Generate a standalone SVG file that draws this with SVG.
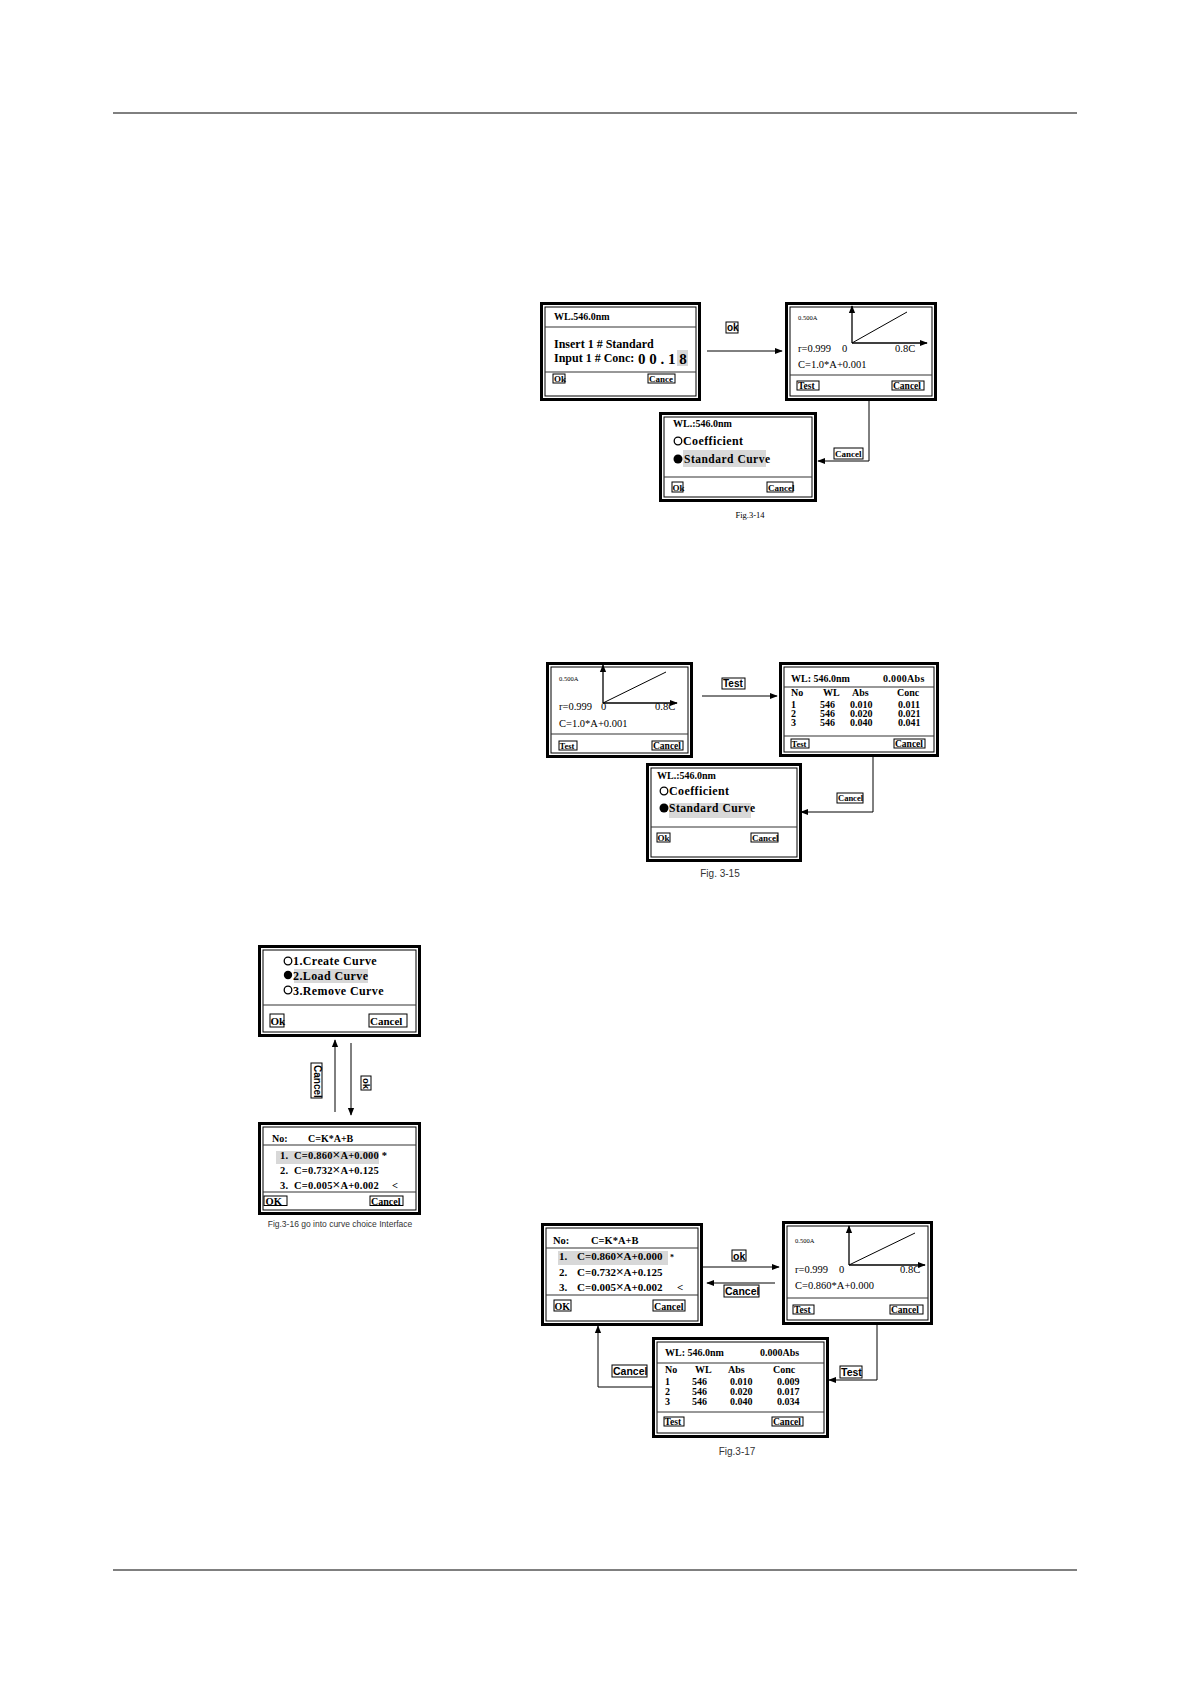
<svg xmlns="http://www.w3.org/2000/svg" width="1191" height="1684" viewBox="0 0 1191 1684">
<style>
.fr{fill:#fff;stroke:#000;stroke-width:3}
.in{fill:none;stroke:#000;stroke-width:1}
.sep{stroke:#333;stroke-width:1.2}
.b{font-family:"Liberation Serif",serif;font-weight:bold;fill:#000}
.r{font-family:"Liberation Serif",serif;fill:#000}
.btn{fill:#fff;stroke:#000;stroke-width:1}
.lbl{font-family:"Liberation Sans",Arial,sans-serif;font-weight:bold;fill:#000}
.cap{font-family:"Liberation Sans",Arial,sans-serif;fill:#333}
.conn{stroke:#000;stroke-width:1;fill:none}
.ax{stroke:#000;stroke-width:1.3;fill:none}
.hl{fill:#d8d8d8}
.x{font-family:"Liberation Sans",sans-serif;font-weight:normal;font-size:13px}
</style>
<defs>
<marker id="ah" viewBox="0 0 10 10" refX="9" refY="5" markerWidth="8" markerHeight="8" markerUnits="userSpaceOnUse" orient="auto">
<path d="M0,1 L10,5 L0,9 z" fill="#000"/>
</marker>
</defs>
<line x1="113" y1="113" x2="1077" y2="113" stroke="#000" stroke-width="1"/>
<line x1="113" y1="1570" x2="1077" y2="1570" stroke="#000" stroke-width="1"/>

<g id="connectors">
<line class="conn" x1="707" y1="351" x2="782" y2="351" marker-end="url(#ah)"/>
<polyline class="conn" points="869,401 869,461 818,461" marker-end="url(#ah)"/>
<line class="conn" x1="702" y1="696" x2="777" y2="696" marker-end="url(#ah)"/>
<polyline class="conn" points="873,757 873,812 801,812" marker-end="url(#ah)"/>
<line class="conn" x1="335" y1="1112" x2="335" y2="1040" marker-end="url(#ah)"/>
<line class="conn" x1="351" y1="1043" x2="351" y2="1115" marker-end="url(#ah)"/>
<line class="conn" x1="703" y1="1267" x2="779" y2="1267" marker-end="url(#ah)"/>
<line class="conn" x1="775" y1="1283" x2="707" y2="1283" marker-end="url(#ah)"/>
<polyline class="conn" points="877,1325 877,1380 829,1380" marker-end="url(#ah)"/>
<polyline class="conn" points="652,1387 598,1387 598,1326" marker-end="url(#ah)"/>
<g id="lbl-ok1"><rect class="btn" x="726" y="322" width="12" height="11"/><text class="lbl" x="727" y="331" font-size="10">ok</text></g>
<g id="lbl-cancel1"><rect class="btn" x="834" y="448" width="29" height="11"/><text class="b" x="835" y="457" font-size="9">Cancel</text></g>
<g id="lbl-test2"><rect class="btn" x="722" y="678" width="23" height="11"/><text class="lbl" x="723" y="687" font-size="10">Test</text></g>
<g id="lbl-cancel2"><rect class="btn" x="837" y="793" width="26" height="10"/><text class="b" x="838" y="801" font-size="8.5">Cancel</text></g>
<g id="lbl-cancel3"><rect class="btn" x="311" y="1063" width="11" height="35"/><text class="lbl" font-size="10" transform="translate(313.5,1065) rotate(90)">Cancel</text></g>
<g id="lbl-ok3"><rect class="btn" x="361" y="1076" width="10" height="14"/><text class="lbl" font-size="9.5" transform="translate(363,1078) rotate(90)">ok</text></g>
<g id="lbl-ok4"><rect class="btn" x="732" y="1250" width="14" height="11"/><text class="lbl" x="733" y="1259.5" font-size="10.5">ok</text></g>
<g id="lbl-cancel4"><rect class="btn" x="724" y="1285" width="35" height="12"/><text class="lbl" x="725" y="1295" font-size="10.5">Cancel</text></g>
<g id="lbl-test4"><rect class="btn" x="840" y="1366" width="22" height="12"/><text class="lbl" x="841" y="1376" font-size="10.5">Test</text></g>
<g id="lbl-cancel5"><rect class="btn" x="612" y="1365" width="35" height="12"/><text class="lbl" x="613" y="1375" font-size="10.5">Cancel</text></g>
</g>

<!-- Fig 3-14 -->
<g id="s1">
<rect class="fr" x="541.5" y="303.5" width="158" height="96"/>
<rect class="in" x="545" y="307" width="151" height="89"/>
<text class="b" x="554" y="320" font-size="10">WL.546.0nm</text>
<line class="sep" x1="545" y1="327" x2="696" y2="327"/>
<text class="b" x="554" y="348" font-size="12">Insert 1 # Standard</text>
<rect class="hl" x="677" y="350" width="11" height="16"/>
<text class="b" x="554" y="362" font-size="12">Input 1 # Conc:</text>
<text class="b" x="638" y="364" font-size="15">0 0 . 1 8</text>
<line class="sep" x1="545" y1="372" x2="696" y2="372"/>
<rect class="btn" x="553" y="374" width="12" height="9"/><text class="b" x="554" y="382" font-size="9">Ok</text>
<rect class="btn" x="648" y="374" width="27" height="9"/><text class="b" x="649" y="382" font-size="9">Cance</text>
</g>
<g id="s2">
<rect class="fr" x="786.5" y="303.5" width="149" height="96"/>
<rect class="in" x="790" y="307" width="142" height="89"/>
<line class="ax" x1="852" y1="343" x2="852" y2="306" marker-end="url(#ah)"/>
<line class="ax" x1="852" y1="343" x2="927" y2="343" marker-end="url(#ah)"/>
<line class="conn" x1="852" y1="343" x2="907" y2="312"/>
<text class="r" x="798" y="320" font-size="6.5">0.500A</text>
<text class="r" x="798" y="352" font-size="10.5">r=0.999</text>
<text class="r" x="842" y="352" font-size="10.5">0</text>
<text class="r" x="895" y="352" font-size="10.5">0.8C</text>
<text class="r" x="798" y="368" font-size="10.5">C=1.0*A+0.001</text>
<line class="sep" x1="790" y1="375" x2="932" y2="375"/>
<rect class="btn" x="797" y="381" width="22" height="9"/><text class="b" x="798" y="389" font-size="9.5">Test</text>
<rect class="btn" x="892" y="381" width="32" height="9"/><text class="b" x="893" y="389" font-size="9.5">Cancel</text>
</g>
<g id="s3">
<rect class="fr" x="660.5" y="413.5" width="155" height="87"/>
<rect class="in" x="664" y="417" width="148" height="80"/>
<text class="b" x="673" y="427" font-size="10">WL.:546.0nm</text>
<circle cx="678" cy="441" r="3.8" fill="none" stroke="#000" stroke-width="1.3"/>
<text class="b" x="683" y="445" font-size="12" letter-spacing="0.4">Coefficient</text>
<rect class="hl" x="683" y="450" width="83" height="17"/>
<circle cx="678" cy="459" r="4.5" fill="#000"/>
<text class="b" x="684" y="463" font-size="11.5" letter-spacing="0.5">Standard Curve</text>
<line class="sep" x1="664" y1="477" x2="812" y2="477"/>
<rect class="btn" x="672" y="482" width="11" height="10"/><text class="b" x="672.5" y="490.5" font-size="9">Ok</text>
<rect class="btn" x="767" y="482" width="26" height="10"/><text class="b" x="768" y="490.5" font-size="9">Cancel</text>
<text class="r" x="750" y="518" font-size="8.5" text-anchor="middle" fill="#333">Fig.3-14</text>
</g>

<!-- Fig 3-15 -->
<g id="s4">
<rect class="fr" x="547.5" y="663.5" width="144" height="93"/>
<rect class="in" x="551" y="667" width="137" height="86"/>
<line class="ax" x1="603" y1="703" x2="603" y2="665" marker-end="url(#ah)"/>
<line class="ax" x1="603" y1="703" x2="677" y2="703" marker-end="url(#ah)"/>
<line class="conn" x1="603" y1="703" x2="666" y2="672"/>
<text class="r" x="559" y="681" font-size="6.5">0.500A</text>
<text class="r" x="559" y="710" font-size="10.5">r=0.999</text>
<text class="r" x="601" y="710" font-size="10.5">0</text>
<text class="r" x="655" y="710" font-size="10.5">0.8C</text>
<text class="r" x="559" y="727" font-size="10.5">C=1.0*A+0.001</text>
<line class="sep" x1="551" y1="734" x2="688" y2="734"/>
<rect class="btn" x="559" y="741" width="18" height="9"/><text class="b" x="559.5" y="749" font-size="8.5">Test</text>
<rect class="btn" x="652" y="741" width="31" height="9"/><text class="b" x="653" y="749" font-size="9.5">Cancel</text>
</g>
<g id="s5">
<rect class="fr" x="780.5" y="663.5" width="157" height="92"/>
<rect class="in" x="784" y="667" width="150" height="85"/>
<text class="b" x="791" y="682" font-size="10">WL:  546.0nm</text>
<text class="b" x="883" y="682" font-size="10" letter-spacing="0.3">0.000Abs</text>
<line class="sep" x1="784" y1="687" x2="934" y2="687"/>
<g class="b" font-size="10">
<text x="791" y="696">No</text><text x="823" y="696">WL</text><text x="852" y="696">Abs</text><text x="897" y="696">Conc</text>
<text x="791" y="708">1</text><text x="820" y="708">546</text><text x="850" y="708">0.010</text><text x="898" y="708">0.011</text>
<text x="791" y="717">2</text><text x="820" y="717">546</text><text x="850" y="717">0.020</text><text x="898" y="717">0.021</text>
<text x="791" y="726">3</text><text x="820" y="726">546</text><text x="850" y="726">0.040</text><text x="898" y="726">0.041</text>
</g>
<line class="sep" x1="784" y1="736" x2="934" y2="736"/>
<rect class="btn" x="791" y="739" width="18" height="9"/><text class="b" x="791.5" y="747" font-size="8.5">Test</text>
<rect class="btn" x="894" y="739" width="31" height="9"/><text class="b" x="895" y="747" font-size="9.5">Cancel</text>
</g>
<g id="s6">
<rect class="fr" x="647.5" y="764.5" width="153" height="96"/>
<rect class="in" x="651" y="768" width="146" height="89"/>
<text class="b" x="657" y="779" font-size="10">WL.:546.0nm</text>
<circle cx="664" cy="791" r="3.8" fill="none" stroke="#000" stroke-width="1.3"/>
<text class="b" x="669" y="795" font-size="12" letter-spacing="0.4">Coefficient</text>
<rect class="hl" x="669" y="803" width="82" height="15"/>
<circle cx="664" cy="808" r="4.5" fill="#000"/>
<text class="b" x="669" y="812" font-size="11.5" letter-spacing="0.5">Standard Curve</text>
<line class="sep" x1="651" y1="827" x2="797" y2="827"/>
<rect class="btn" x="657" y="833" width="13" height="9"/><text class="b" x="657.5" y="841" font-size="9">Ok</text>
<rect class="btn" x="751" y="833" width="27" height="9"/><text class="b" x="752" y="841" font-size="9">Cancel</text>
<text class="cap" x="720" y="877" font-size="10" text-anchor="middle">Fig. 3-15</text>
</g>

<!-- Fig 3-16 -->
<g id="s7">
<rect class="fr" x="259.5" y="946.5" width="160" height="89"/>
<rect class="in" x="263" y="950" width="153" height="82"/>
<circle cx="288" cy="961" r="3.8" fill="none" stroke="#000" stroke-width="1.3"/>
<text class="b" x="293" y="965" font-size="12" letter-spacing="0.4">1.Create Curve</text>
<rect class="hl" x="294" y="969" width="74" height="14"/>
<circle cx="288" cy="975" r="4.2" fill="#000"/>
<text class="b" x="293" y="979.5" font-size="12" letter-spacing="0.4">2.Load Curve</text>
<circle cx="288" cy="990" r="3.8" fill="none" stroke="#000" stroke-width="1.3"/>
<text class="b" x="293" y="994.5" font-size="12" letter-spacing="0.4">3.Remove Curve</text>
<line class="sep" x1="263" y1="1005" x2="416" y2="1005"/>
<rect class="btn" x="270" y="1014" width="14" height="13"/><text class="b" x="270.5" y="1024.5" font-size="11">Ok</text>
<rect class="btn" x="369" y="1014" width="38" height="13"/><text class="b" x="370" y="1024.5" font-size="11">Cancel</text>
</g>
<g id="s8">
<rect class="fr" x="259.5" y="1123.5" width="160" height="90"/>
<rect class="in" x="263" y="1127" width="153" height="83"/>
<text class="b" x="272" y="1142" font-size="10" fill="#1a1a99">No:</text>
<text class="b" x="308" y="1142" font-size="10">C=K*A+B</text>
<line class="sep" x1="263" y1="1145" x2="416" y2="1145"/>
<rect class="hl" x="276" y="1151" width="103" height="13"/>
<g class="b" font-size="10.5" letter-spacing="0.2">
<text x="280" y="1159">1.</text><text x="294" y="1159">C=0.860<tspan class="x">×</tspan>A+0.000 *</text>
<text x="280" y="1174">2.</text><text x="294" y="1174">C=0.732<tspan class="x">×</tspan>A+0.125</text>
<text x="280" y="1188.5">3.</text><text x="294" y="1188.5">C=0.005<tspan class="x">×</tspan>A+0.002</text><text x="392" y="1188.5">&lt;</text>
</g>
<line class="sep" x1="263" y1="1192" x2="416" y2="1192"/>
<rect class="btn" x="264" y="1196" width="23" height="9.5"/><text class="b" x="265.5" y="1204.5" font-size="10.5">OK</text>
<rect class="btn" x="370" y="1196" width="33" height="9.5"/><text class="b" x="371" y="1204.5" font-size="10">Cancel</text>
<text class="cap" x="340" y="1227" font-size="8.5" text-anchor="middle">Fig.3-16 go into curve choice Interface</text>
</g>

<!-- Fig 3-17 -->
<g id="s9">
<rect class="fr" x="542.5" y="1224.5" width="159" height="100"/>
<rect class="in" x="546" y="1228" width="152" height="93"/>
<text class="b" x="553" y="1244" font-size="10.5" fill="#1a1a99">No:</text>
<text class="b" x="591" y="1244" font-size="10.5">C=K*A+B</text>
<line class="sep" x1="546" y1="1248" x2="698" y2="1248"/>
<rect class="hl" x="558" y="1251" width="110" height="14"/>
<g class="b" font-size="11">
<text x="559" y="1260">1.</text><text x="577" y="1260">C=0.860<tspan class="x">×</tspan>A+0.000</text><text x="670" y="1260" font-size="8">*</text>
<text x="559" y="1276">2.</text><text x="577" y="1276">C=0.732<tspan class="x">×</tspan>A+0.125</text>
<text x="559" y="1291">3.</text><text x="577" y="1291">C=0.005<tspan class="x">×</tspan>A+0.002</text><text x="677" y="1291">&lt;</text>
</g>
<line class="sep" x1="546" y1="1295" x2="698" y2="1295"/>
<rect class="btn" x="554" y="1300" width="17" height="11"/><text class="b" x="554.5" y="1309.5" font-size="10">OK</text>
<rect class="btn" x="653" y="1300" width="32" height="11"/><text class="b" x="654" y="1309.5" font-size="10">Cancel</text>
</g>
<g id="s10">
<rect class="fr" x="783.5" y="1222.5" width="148" height="101"/>
<rect class="in" x="787" y="1226" width="141" height="94"/>
<line class="ax" x1="849" y1="1265" x2="849" y2="1226" marker-end="url(#ah)"/>
<line class="ax" x1="849" y1="1265" x2="925" y2="1265" marker-end="url(#ah)"/>
<line class="conn" x1="849" y1="1265" x2="915" y2="1233"/>
<text class="r" x="795" y="1243" font-size="6.5">0.500A</text>
<text class="r" x="795" y="1273" font-size="10.5">r=0.999</text>
<text class="r" x="839" y="1273" font-size="10.5">0</text>
<text class="r" x="900" y="1273" font-size="10.5">0.8C</text>
<text class="r" x="795" y="1289" font-size="10.5">C=0.860*A+0.000</text>
<line class="sep" x1="787" y1="1298" x2="928" y2="1298"/>
<rect class="btn" x="793" y="1305" width="21" height="9"/><text class="b" x="794" y="1313" font-size="9.5">Test</text>
<rect class="btn" x="890" y="1305" width="33" height="9"/><text class="b" x="891" y="1313" font-size="9.5">Cancel</text>
</g>
<g id="s11">
<rect class="fr" x="653.5" y="1338.5" width="174" height="98"/>
<rect class="in" x="657" y="1342" width="167" height="91"/>
<text class="b" x="665" y="1356" font-size="10">WL:  546.0nm</text>
<text class="b" x="760" y="1356" font-size="10">0.000Abs</text>
<line class="sep" x1="657" y1="1363" x2="824" y2="1363"/>
<g class="b" font-size="10">
<text x="665" y="1373">No</text><text x="695" y="1373">WL</text><text x="728" y="1373">Abs</text><text x="773" y="1373">Conc</text>
<text x="665" y="1385">1</text><text x="692" y="1385">546</text><text x="730" y="1385">0.010</text><text x="777" y="1385">0.009</text>
<text x="665" y="1395">2</text><text x="692" y="1395">546</text><text x="730" y="1395">0.020</text><text x="777" y="1395">0.017</text>
<text x="665" y="1405">3</text><text x="692" y="1405">546</text><text x="730" y="1405">0.040</text><text x="777" y="1405">0.034</text>
</g>
<line class="sep" x1="657" y1="1412" x2="824" y2="1412"/>
<rect class="btn" x="664" y="1417" width="20" height="9"/><text class="b" x="664.5" y="1425" font-size="9.5">Test</text>
<rect class="btn" x="772" y="1417" width="31" height="9"/><text class="b" x="773" y="1425" font-size="9.5">Cancel</text>
<text class="cap" x="737" y="1455" font-size="10" text-anchor="middle">Fig.3-17</text>
</g>
</svg>
